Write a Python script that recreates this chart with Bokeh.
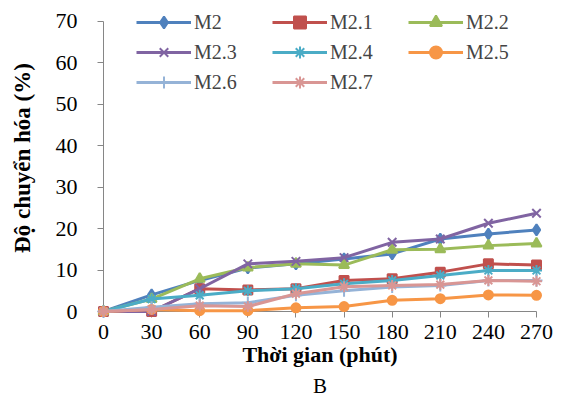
from bokeh.plotting import figure
from bokeh.models import Legend, LegendItem, Range1d, FixedTicker, Title
from bokeh.embed import file_html
from bokeh.resources import INLINE

time_min = [0, 30, 60, 90, 120, 150, 180, 210, 240, 270]
series_names = ["M2", "M2.1", "M2.2", "M2.3", "M2.4", "M2.5", "M2.6", "M2.7"]
m2   = [0, 4.0, 7.5, 10.5, 11.5, 12.7, 13.9, 17.5, 18.7, 19.7]
m2_1 = [0, 0.0, 5.5, 5.2, 5.5, 7.5, 7.9, 9.5, 11.5, 11.2]
m2_2 = [0, 3.0, 7.9, 10.6, 11.5, 11.2, 14.9, 15.0, 15.9, 16.4]
m2_3 = [0, 0.0, 5.5, 11.5, 12.1, 13.0, 16.7, 17.5, 21.3, 23.7]
m2_4 = [0, 3.0, 3.9, 5.0, 5.5, 6.7, 7.5, 8.7, 9.9, 9.9]
m2_5 = [0, 0.5, 0.2, 0.2, 0.9, 1.2, 2.7, 3.1, 4.0, 3.9]
m2_6 = [0, 1.0, 1.9, 2.1, 3.9, 5.0, 5.9, 6.3, 7.5, 7.5]
m2_7 = [0, 0.5, 1.4, 1.2, 4.3, 6.0, 6.3, 6.5, 7.5, 7.3]
values = [m2, m2_1, m2_2, m2_3, m2_4, m2_5, m2_6, m2_7]
y_ticks = [0, 10, 20, 30, 40, 50, 60, 70]

colors = ["#4F81BD", "#C0504D", "#9BBB59", "#8064A2", "#4BACC6", "#F79646", "#95B3D7", "#D99694"]
markers = ["diamond", "square", "triangle", "x", "asterisk", "circle", "cross", "asterisk"]
msizes = [11, 9, 10, 12, 11, 9, 12, 11]

FONT = "Liberation Serif"

p = figure(width=562, height=414, output_backend="svg", toolbar_location=None,
           x_range=Range1d(0, 270), y_range=Range1d(0, 74.1),
           min_border_left=103, min_border_right=26, min_border_top=4, min_border_bottom=103)
p.outline_line_color = None
p.xgrid.grid_line_color = None
p.ygrid.grid_line_color = None
p.background_fill_color = "white"

items = []
for name, ys, c, m, s in zip(series_names, values, colors, markers, msizes):
    lr = p.line(time_min, ys, line_color=c, line_width=3, level="overlay")
    sr = p.scatter(time_min, ys, marker=m, size=s, fill_color=c, line_color=c,
                   line_width=2, level="overlay")
    items.append(LegendItem(label=name, renderers=[lr, sr]))

legend = Legend(items=items, orientation="horizontal", ncols=3,
                location=(33, 214), padding=0, margin=0, spacing=0,
                glyph_width=55, glyph_height=30, label_height=30, label_width=78,
                label_standoff=3, label_text_font=FONT, label_text_font_size="20px",
                background_fill_alpha=0, border_line_color=None)
p.add_layout(legend, "center")

for ax in (p.xaxis[0], p.yaxis[0]):
    ax.axis_line_color = "#868686"
    ax.major_tick_line_color = "#868686"
    ax.minor_tick_line_color = None
    ax.major_tick_in = 0
    ax.major_tick_out = 6
    ax.major_label_text_font = FONT
    ax.major_label_text_font_size = "22px"
    ax.major_label_text_color = "black"
    ax.axis_label_text_font = FONT
    ax.axis_label_text_font_style = "bold"
    ax.axis_label_text_color = "black"

p.yaxis.bounds = (0, 70)
p.xaxis.ticker = FixedTicker(ticks=time_min)
p.yaxis.ticker = FixedTicker(ticks=y_ticks)
p.xaxis.axis_label = "Thời gian (phút)"
p.yaxis.axis_label = "Độ chuyển hóa (%)"
p.xaxis.axis_label_text_font_size = "22px"
p.yaxis.axis_label_text_font_size = "23px"
p.xaxis.major_label_standoff = 7
p.yaxis.major_label_standoff = 20
p.xaxis.axis_label_standoff = 0
p.yaxis.axis_label_standoff = 18

p.add_layout(Title(text="B", align="center", text_font=FONT, text_font_size="21px",
                   text_font_style="normal", text_color="black", standoff=4), "below")

open("out.html", "w").write(file_html(p, INLINE))
